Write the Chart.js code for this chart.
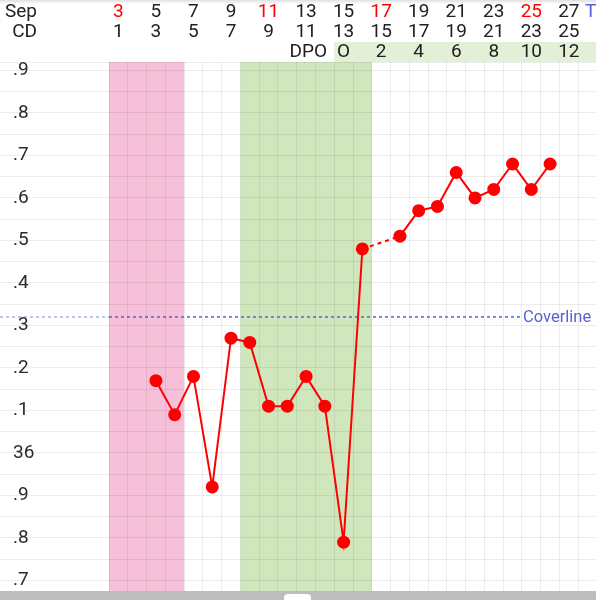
<!DOCTYPE html>
<html>
<head>
<meta charset="utf-8">
<script src="https://cdn.jsdelivr.net/npm/chart.js@4"></script>
<style>
  body { margin: 0; overflow: hidden; background: #fff; }
  #wrap { position: relative; width: 596px; height: 600px; overflow: hidden; }
  #shade { position: absolute; left: 0; top: 0; width: 100%; height: 4px; background: linear-gradient(rgba(0,0,0,0.12), rgba(0,0,0,0)); }
  #bar { position: absolute; left: 0; top: 591px; width: 100%; height: 9px; background: #bdbdbd; }
  #handle { position: absolute; left: 284px; top: 3px; width: 27px; height: 8px; background: #fff; border-radius: 4px 4px 0 0; }
</style>
</head>
<body>
<div id="wrap">
  <canvas id="bbt" width="597" height="600"></canvas>
  <div id="shade"></div>
  <div id="bar"><div id="handle"></div></div>
</div>
<script>
// cycle days 1..26
const cycleDays = [1, 2, 3, 4, 5, 6, 7, 8, 9, 10, 11, 12, 13, 14, 15, 16, 17, 18, 19, 20, 21, 22, 23, 24, 25, 26];
const temps = [null, null, 36.17, 36.09, 36.18, 35.92, 36.27, 36.26, 36.11, 36.11, 36.18, 36.11, 35.79, 36.48,
  null, 36.51, 36.57, 36.58, 36.66, 36.60, 36.62, 36.68, 36.62, 36.68, null, null];

// header rows
const headerCols = [1, 3, 5, 7, 9, 11, 13, 15, 17, 19, 21, 23, 25];
const dateLabels = ['3', '5', '7', '9', '11', '13', '15', '17', '19', '21', '23', '25', '27'];
const cdLabels = ['1', '3', '5', '7', '9', '11', '13', '15', '17', '19', '21', '23', '25'];
const redDates = ['3', '11', '17', '25'];
const dpoCols = [13, 15, 17, 19, 21, 23, 25];
const dpoLabels = ['O', '2', '4', '6', '8', '10', '12'];

const periodDays = [1, 4];
const fertileDays = [8, 14];
const coverline = 36.32;

const gridColor = 'rgba(0,0,0,0.07)';
const textColor = '#212121';
const blue = '#5563d6';

const chartBands = {
  id: 'chartBands',
  beforeDraw(chart) {
    const ctx = chart.ctx;
    const a = chart.chartArea;
    const x = chart.scales.x;
    ctx.save();
    ctx.fillStyle = '#f5c0d8';
    let x1 = x.getPixelForValue(periodDays[0] - 0.5);
    let x2 = x.getPixelForValue(periodDays[1] + 0.5);
    ctx.fillRect(x1, a.top, x2 - x1, a.bottom - a.top);
    ctx.fillStyle = '#d0e7bd';
    x1 = x.getPixelForValue(fertileDays[0] - 0.5);
    x2 = x.getPixelForValue(fertileDays[1] + 0.5);
    ctx.fillRect(x1, a.top, x2 - x1, a.bottom - a.top);
    // DPO row background
    ctx.fillStyle = '#e3f0d7';
    x1 = x.getPixelForValue(dpoCols[0] - 0.5);
    ctx.fillRect(x1, 42, chart.width - x1, a.top - 42);
    ctx.restore();
  },
  beforeDatasetsDraw(chart) {
    const ctx = chart.ctx;
    const a = chart.chartArea;
    const y = chart.scales.y.getPixelForValue(coverline);
    ctx.save();
    ctx.lineWidth = 1.5;
    ctx.setLineDash([3, 3]);
    ctx.strokeStyle = 'rgba(85,99,214,0.5)';
    ctx.beginPath();
    ctx.moveTo(0, y);
    ctx.lineTo(a.left, y);
    ctx.stroke();
    ctx.strokeStyle = blue;
    ctx.beginPath();
    ctx.moveTo(a.left, y);
    ctx.lineTo(521, y);
    ctx.stroke();
    ctx.setLineDash([]);
    ctx.fillStyle = blue;
    ctx.font = '16.5px Roboto';
    ctx.textAlign = 'left';
    ctx.textBaseline = 'middle';
    ctx.fillText('Coverline', 523, y + 1);
    ctx.restore();
  },
  afterDraw(chart) {
    const ctx = chart.ctx;
    const x = chart.scales.x;
    ctx.save();
    ctx.font = '19px Roboto';
    ctx.textBaseline = 'middle';
    ctx.textAlign = 'right';
    ctx.fillStyle = textColor;
    ctx.fillText('Sep', 37, 12);
    ctx.fillText('CD', 37, 32);
    ctx.fillText('DPO', 327, 52);
    ctx.textAlign = 'center';
    for (let i = 0; i < headerCols.length; i += 1) {
      const px = x.getPixelForValue(headerCols[i]);
      ctx.fillStyle = redDates.includes(dateLabels[i]) ? '#ff0000' : textColor;
      ctx.fillText(dateLabels[i], px, 12);
      ctx.fillStyle = textColor;
      ctx.fillText(cdLabels[i], px, 32);
    }
    for (let i = 0; i < dpoCols.length; i += 1) {
      ctx.fillText(dpoLabels[i], x.getPixelForValue(dpoCols[i]), 52);
    }
    ctx.textAlign = 'left';
    ctx.fillStyle = blue;
    ctx.fillText('T', 585, 12);
    ctx.restore();
  }
};

new Chart(document.getElementById('bbt'), {
  type: 'line',
  data: {
    datasets: [{
      data: cycleDays.map((d, i) => ({ x: d, y: temps[i] })),
      borderColor: '#ff0000',
      backgroundColor: '#ff0000',
      borderWidth: 2,
      pointRadius: 6.5,
      pointHoverRadius: 6.5,
      pointBorderWidth: 0,
      tension: 0,
      spanGaps: true,
      segment: {
        borderDash: ctx => (ctx.p0.skip || ctx.p1.skip) ? [4, 4] : undefined
      }
    }]
  },
  options: {
    responsive: false,
    animation: false,
    layout: { autoPadding: false, padding: { left: 13, top: 62, bottom: 9, right: 0 } },
    plugins: { legend: { display: false }, tooltip: { enabled: false } },
    scales: {
      x: {
        type: 'linear',
        min: 0.5,
        max: 26.5,
        ticks: { display: false },
        grid: { color: gridColor, drawTicks: false },
        border: { display: false },
        afterBuildTicks: s => {
          s.ticks = cycleDays.map(d => ({ value: d - 0.5 })).concat([{ value: 26.5 }]);
        },
        afterFit: s => { s.height = 0; s.paddingLeft = 0; s.paddingRight = 0; }
      },
      y: {
        min: 35.675,
        max: 36.92,
        afterBuildTicks: s => {
          const t = [];
          for (let v = 3570; v <= 3690; v += 5) {
            t.push({ value: v / 100 });
          }
          t.push({ value: 36.92 });
          s.ticks = t;
        },
        ticks: {
          autoSkip: false,
          crossAlign: 'far',
          color: '#2b2b2b',
          font: { family: 'Roboto', size: 19 },
          callback: value => {
            const t = Math.round(value * 100);
            if (t % 10 !== 0) return '';
            const d = (t / 10) % 10;
            return d === 0 ? String(t / 100) : '.' + d;
          }
        },
        grid: { color: gridColor, tickColor: gridColor, tickLength: 109 },
        border: { display: false },
        afterFit: s => { s.width = 96; s.paddingTop = 0; s.paddingBottom = 0; }
      }
    }
  },
  plugins: [chartBands]
});
</script>
</body>
</html>
